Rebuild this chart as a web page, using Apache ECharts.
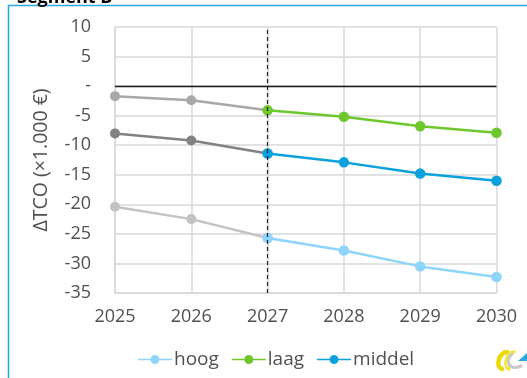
<!DOCTYPE html>
<html>
<head>
<meta charset="utf-8">
<script src="https://cdn.jsdelivr.net/npm/echarts@6/dist/echarts.min.js"></script>
<style>
  html, body { margin: 0; padding: 0; background: #fff; }
  #chart { width: 527px; height: 378px; }
</style>
</head>
<body>
<div id="chart"></div>
<script>
// Years on the x axis
const years = ['2025', '2026', '2027', '2028', '2029', '2030'];
// ΔTCO per scenario, in thousands of euros
const hoog = [-20.4, -22.5, -25.7, -27.8, -30.5, -32.3];
const laag = [-1.7, -2.4, -4.1, -5.2, -6.8, -7.9];
const middel = [-8.0, -9.2, -11.4, -12.9, -14.8, -16.0];
// Year from which the scenario colours apply
const splitYear = '2027';
const seriesNames = ['hoog', 'laag', 'middel'];

const FONT = '"Open Sans", sans-serif';
const TEXT = '#505050';
const splitIdx = years.indexOf(splitYear);

const scenarios = [
  { name: seriesNames[0], values: hoog, color: '#8fd4fb', grey: '#c3c3c3' },
  { name: seriesNames[1], values: laag, color: '#6ec72d', grey: '#a8a8a8' },
  { name: seriesNames[2], values: middel, color: '#0aa1dc', grey: '#828282' }
];

// legend icon: short line with a dot in the middle
const LINE_DOT = 'path://M0,4.2L34,4.2L34,5.8L0,5.8Z M21.5,5A4.5,4.5 0 1,1 12.5,5A4.5,4.5 0 1,1 21.5,5Z';

const series = [];
// reference lines: zero line and the dashed divider
series.push({
  type: 'line', data: [], z: 1, silent: true,
  markLine: {
    symbol: 'none', silent: true, label: { show: false },
    data: [
      { yAxis: 0, lineStyle: { color: '#1a1a1a', width: 1.3, type: 'solid' } },
      { xAxis: splitYear, lineStyle: { color: '#222', width: 1.2, type: [4, 3] } }
    ]
  }
});
// history part in grey
scenarios.forEach(s => {
  series.push({
    type: 'line', z: 2,
    data: s.values.map((v, i) => (i <= splitIdx ? v : null)),
    symbol: 'circle', symbolSize: 10,
    lineStyle: { color: s.grey, width: 2.5 },
    itemStyle: { color: s.grey }
  });
});
// scenario part in colour
scenarios.forEach(s => {
  series.push({
    name: s.name, type: 'line', z: 3,
    data: s.values.map((v, i) => (i >= splitIdx ? v : null)),
    symbol: 'circle', symbolSize: 10.5,
    lineStyle: { color: s.color, width: 2.5 },
    itemStyle: { color: s.color }
  });
});

const chart = echarts.init(document.getElementById('chart'), null, { renderer: 'canvas' });
chart.setOption({
  animation: false,
  backgroundColor: '#ffffff',
  title: {
    text: 'Segment B', left: 12, top: -16,
    textStyle: { fontFamily: FONT, fontSize: 18, fontWeight: 'bold', color: '#000' }
  },
  grid: { left: 115, right: 30.5, top: 27, bottom: 85 },
  legend: {
    data: seriesNames,
    left: 133, top: 345,
    itemWidth: 34, itemHeight: 10, itemGap: 13,
    icon: LINE_DOT,
    textStyle: { fontFamily: FONT, fontSize: 19, color: TEXT, padding: [0, 0, 0, -3] }
  },
  xAxis: {
    type: 'category', data: years, boundaryGap: false,
    axisLine: { show: true, onZero: false, lineStyle: { color: '#d9d9d9', width: 1.5 } },
    axisTick: { show: false },
    splitLine: { show: true, lineStyle: { color: '#d9d9d9', width: 1.5 } },
    axisLabel: { fontFamily: FONT, fontSize: 18, color: TEXT, margin: 15 }
  },
  yAxis: {
    type: 'value', min: -35, max: 10, interval: 5,
    name: 'ΔTCO (×1.000 €)', nameLocation: 'middle', nameGap: 64, nameRotate: 90,
    nameTextStyle: { fontFamily: FONT, fontSize: 19.5, color: TEXT },
    axisLine: { show: true, lineStyle: { color: '#d9d9d9', width: 1.5 } },
    axisTick: { show: false },
    splitLine: { show: true, lineStyle: { color: '#d9d9d9', width: 1.5 } },
    axisLabel: {
      fontFamily: FONT, fontSize: 18, color: TEXT, margin: 24,
      formatter: v => (v === 0 ? '-' : String(v))
    }
  },
  series: series,
  graphic: [
    // outer frame
    { type: 'rect', silent: true, z: 0,
      shape: { x: 8.5, y: 5.5, width: 600, height: 400 },
      style: { fill: 'none', stroke: '#2aa8e0', lineWidth: 1.5 } },
    // logo
    { type: 'group', x: 495, y: 351, silent: true, children: [
      { type: 'bezierCurve',
        shape: { x1: 12, y1: 1, cpx1: 4, cpy1: 1, cpx2: 0, cpy2: 16, x2: 7, y2: 18 },
        style: { fill: 'none', stroke: '#efd800', lineWidth: 4.5, lineCap: 'round' } },
      { type: 'bezierCurve',
        shape: { x1: 19, y1: 1, cpx1: 11, cpy1: 1, cpx2: 8, cpy2: 16, x2: 14, y2: 18 },
        style: { fill: 'none', stroke: '#f4e548', lineWidth: 3.5, lineCap: 'round' } },
      { type: 'bezierCurve',
        shape: { x1: 17, y1: 3, cpx1: 10, cpy1: 10, cpx2: 14, cpy2: 20, x2: 26, y2: 15 },
        style: { fill: 'none', stroke: '#c8c8c8', lineWidth: 3, lineCap: 'round' } },
      { type: 'polygon', shape: { points: [[23, 10], [32, 2], [32, 10]] },
        style: { fill: '#2aa8e0' } }
    ] }
  ]
});
</script>
</body>
</html>
